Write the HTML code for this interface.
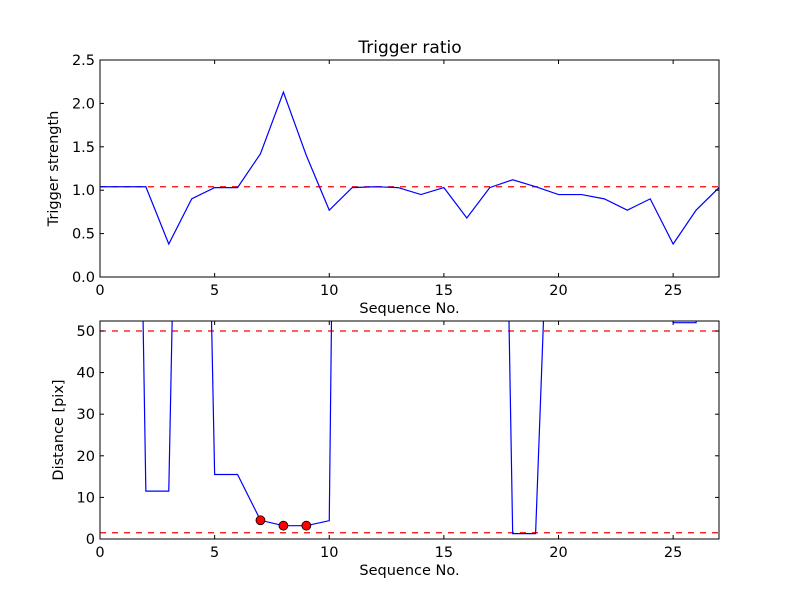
<!DOCTYPE html>
<html><head><meta charset="utf-8"><style>
body{margin:0;background:#fff}
svg{display:block;font-family:"DejaVu Sans","Liberation Sans",sans-serif}
</style></head><body>
<svg id="chart" width="800" height="600" viewBox="0 0 800 600">
<rect width="800" height="600" fill="#fff"/>
<defs>
<clipPath id="c1"><rect x="100" y="60" width="619" height="217"/></clipPath>
<clipPath id="c2"><rect x="100" y="321" width="619" height="218"/></clipPath>
</defs>
<text x="410" y="53" text-anchor="middle" font-size="17">Trigger ratio</text>
<g id="top"></g>
<g id="bot"></g>
</svg>
<script>
const xs=[0,1,2,3,4,5,6,7,8,9,10,11,12,13,14,15,16,17,18,19,20,21,22,23,24,25,26,27];
const strength=[1.04,1.04,1.04,0.38,0.9,1.03,1.03,1.42,2.13,1.4,0.77,1.03,1.04,1.03,0.95,1.03,0.68,1.03,1.12,1.04,0.95,0.95,0.9,0.77,0.9,0.38,0.77,1.03];
const strengthRef=[1.04];
const distance=[350,350,11.5,11.5,290,15.5,15.5,4.5,3.2,3.2,4.4,500,500,500,500,500,400,320,1.3,1.3,150,300,300,300,300,52,52,300];
const distanceRefs=[50,1.5];
const markedIdx=[7,8,9];
const xTicks=[0,5,10,15,20,25];
const yTicksTop=["0.0","0.5","1.0","1.5","2.0","2.5"];
const yTicksBot=[0,10,20,30,40,50];
const NS="http://www.w3.org/2000/svg";
function mk(p,t,a){const e=document.createElementNS(NS,t);for(const k in a)e.setAttribute(k,a[k]);p.appendChild(e);return e;}
function panel(g,L,T,W,H,xmax,ymin,ymax,yt,ylab,clip,vals,refs){
 const X=v=>L+v/xmax*W, Y=v=>T+H-(v-ymin)/(ymax-ymin)*H;
 const cg=mk(g,'g',{'clip-path':'url(#'+clip+')'});
 
 
 refs.forEach(r=>{const l=mk(cg,'line',{x1:L,x2:L+W,y1:Y(r),y2:Y(r),stroke:'#f00','stroke-width':1.2,'stroke-dasharray':'6,6'});
  
  });
 const pl=mk(cg,'polyline',{points:vals.map((v,i)=>X(xs[i])+','+Y(v)).join(' '),fill:'none',stroke:'#00f','stroke-width':1.2});
 
 
 const fr=mk(g,'rect',{x:L,y:T,width:W,height:H,fill:'none',stroke:'#000','stroke-width':1});
 
 
 xTicks.forEach(t=>{const x=X(t);
  mk(g,'line',{x1:x,x2:x,y1:T+H,y2:T+H-4,stroke:'#000'});mk(g,'line',{x1:x,x2:x,y1:T,y2:T+4,stroke:'#000'});
  const tx=mk(g,'text',{x:x,y:T+H+18,'text-anchor':'middle','font-size':14.5});tx.textContent=t;
  
  });
 yt.forEach(t=>{const y=Y(parseFloat(t));
  mk(g,'line',{x1:L,x2:L+4,y1:y,y2:y,stroke:'#000'});mk(g,'line',{x1:L+W,x2:L+W-4,y1:y,y2:y,stroke:'#000'});
  const tx=mk(g,'text',{x:L-5,y:y+5,'text-anchor':'end','font-size':14.5});tx.textContent=t;
  
  });
 const xl=mk(g,'text',{x:L+W/2,y:T+H+36,'text-anchor':'middle','font-size':14.5});xl.textContent='Sequence No.';
 
 
 const yl=mk(g,'text',{x:0,y:0,'text-anchor':'middle','font-size':14.5,transform:'translate('+(L-(ylab.length>15?42:37))+','+(T+H/2)+') rotate(-90)'});yl.textContent=ylab;
 
 
 return {X,Y,cg};
}
const a=panel(document.getElementById('top'),100,60,619,217,27,0,2.5,yTicksTop,'Trigger strength','c1',strength,strengthRef);
const b=panel(document.getElementById('bot'),100,321,619,218,27,0,52.4,yTicksBot.map(String),'Distance [pix]','c2',distance,distanceRefs);
markedIdx.forEach(i=>{const c=mk(b.cg,'circle',{cx:b.X(xs[i]),cy:b.Y(distance[i]),r:4.5,fill:'#f00',stroke:'#000','stroke-width':0.8});
 
 });
</script>
</body></html>
